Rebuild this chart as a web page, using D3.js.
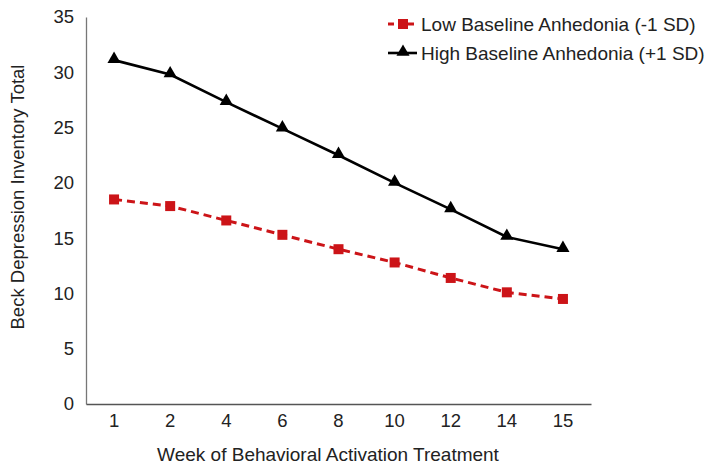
<!DOCTYPE html>
<html><head><meta charset="utf-8">
<script src="https://cdn.jsdelivr.net/npm/d3@7"></script>
<style>body{margin:0;background:#fff}svg{display:block}text{font-family:"Liberation Sans",Arial,sans-serif;fill:#222}</style>
</head><body><svg id="c" width="714" height="473"></svg>
<script>
const weeks = ["1","2","4","6","8","10","12","14","15"];
const lowSeries = [18.5,17.9,16.6,15.3,14.0,12.8,11.4,10.1,9.5];
const highSeries = [31.1,29.8,27.3,24.9,22.5,20.0,17.6,15.1,14.0];
const yTicks = [0,5,10,15,20,25,30,35];
const seriesNames = ["Low Baseline Anhedonia (-1 SD)","High Baseline Anhedonia (+1 SD)"];

const svg = d3.select("#c");
const m = {l:86, r:591, t:17, b:404};
const x = d3.scaleBand().domain(weeks).range([m.l, m.r]);
const y = d3.scaleLinear().domain([0,35]).range([m.b, m.t]);
const cx = d => x(d) + x.bandwidth()/2;

// axes
const ya = svg.append("g").attr("transform",`translate(${m.l},0)`)
  .call(d3.axisLeft(y).tickValues(yTicks).tickSize(0).tickPadding(12));
ya.select(".domain").attr("stroke","#777").attr("stroke-width",1.3);
ya.selectAll("text").attr("font-size",18.5).attr("fill","#222");
const xa = svg.append("g").attr("transform",`translate(0,${m.b})`)
  .call(d3.axisBottom(x).tickSize(0).tickPadding(10));
xa.select(".domain").attr("stroke","#555").attr("stroke-width",1.3);
xa.selectAll("text").attr("font-size",18.5).attr("fill","#222");

// titles
svg.append("text").attr("x",328).attr("y",461).attr("text-anchor","middle")
  .attr("font-size",19).text("Week of Behavioral Activation Treatment");
svg.append("text").attr("transform","translate(24,197) rotate(-90)").attr("text-anchor","middle")
  .attr("font-size",18.5).text("Beck Depression Inventory Total");

const line = d3.line().x((d,i)=>cx(weeks[i])).y(d=>y(d));
const red = "#cc1418";

svg.append("path").datum(lowSeries).attr("d",line).attr("fill","none")
  .attr("stroke",red).attr("stroke-width",3).attr("stroke-dasharray","8,5");
svg.append("path").datum(highSeries).attr("d",line).attr("fill","none")
  .attr("stroke","#000").attr("stroke-width",2.6);

svg.selectAll(".sq").data(lowSeries).join("rect")
  .attr("x",(d,i)=>cx(weeks[i])-5).attr("y",d=>y(d)-5).attr("width",10).attr("height",10)
  .attr("fill",red);
const tri = d3.symbol().type(d3.symbolTriangle).size(75);
svg.selectAll(".tr").data(highSeries).join("path")
  .attr("d",tri).attr("transform",(d,i)=>`translate(${cx(weeks[i])},${y(d)-1})`).attr("fill","#000");

// legend
const lg = svg.append("g");
lg.append("line").attr("x1",388).attr("x2",417).attr("y1",24).attr("y2",24)
  .attr("stroke",red).attr("stroke-width",3).attr("stroke-dasharray","6,4");
lg.append("rect").attr("x",398).attr("y",19).attr("width",10).attr("height",10).attr("fill",red);
lg.append("text").attr("x",421).attr("y",31).attr("font-size",19).text(seriesNames[0]);
lg.append("line").attr("x1",388).attr("x2",417).attr("y1",53).attr("y2",53)
  .attr("stroke","#000").attr("stroke-width",2.6);
lg.append("path").attr("d",tri).attr("transform","translate(403,52)").attr("fill","#000");
lg.append("text").attr("x",421).attr("y",60).attr("font-size",19).text(seriesNames[1]);
</script></body></html>
